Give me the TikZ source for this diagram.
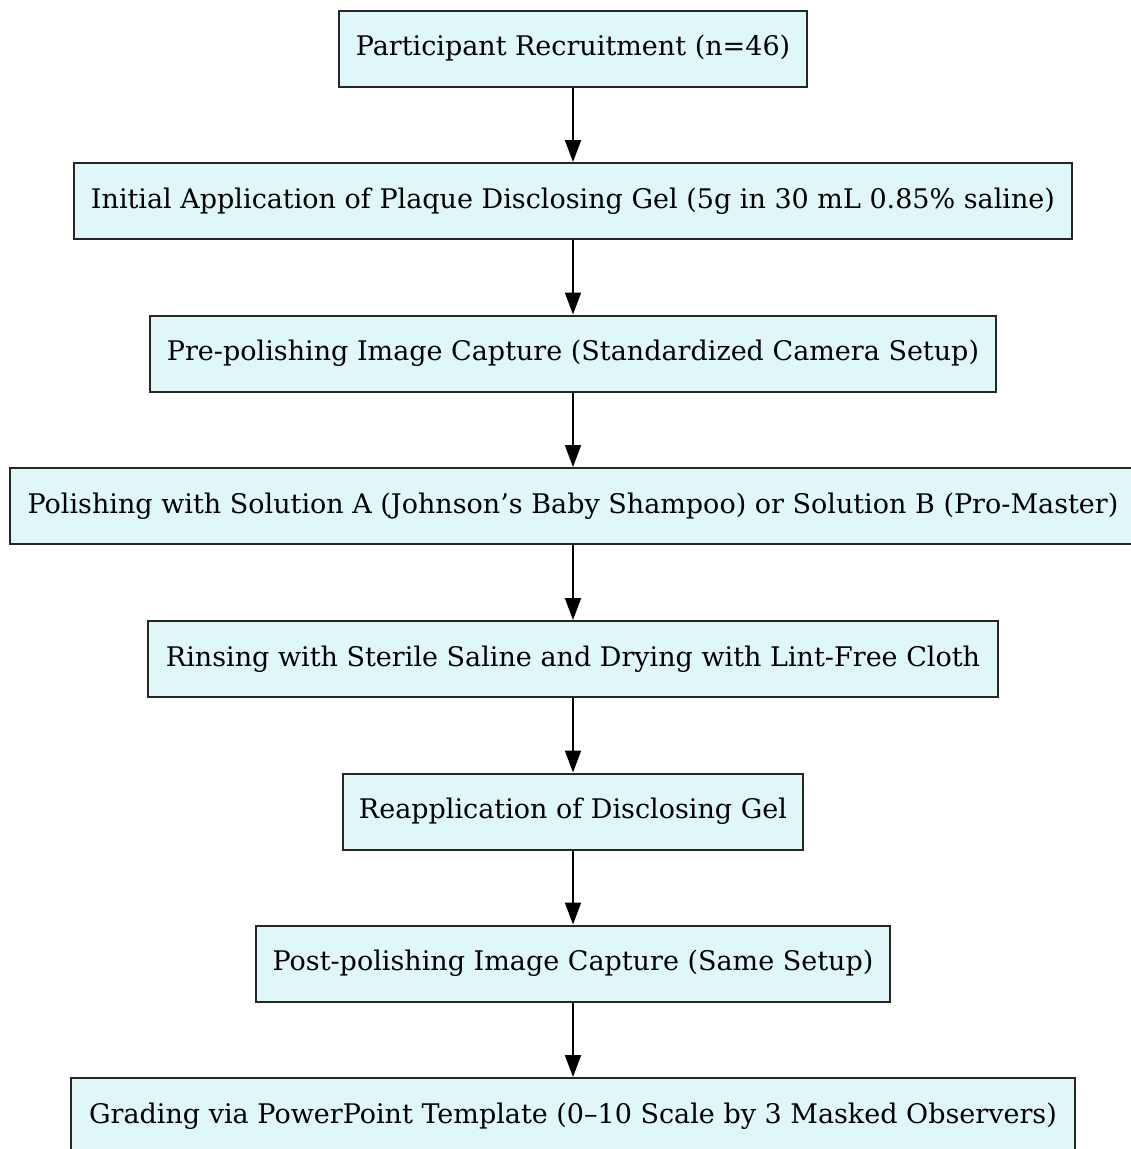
\documentclass[tikz,border=0pt]{standalone}
\usepackage{fontspec}
\setmainfont{DejaVu Serif}
\usetikzlibrary{arrows.meta}
\definecolor{boxfill}{HTML}{E0F7FA}
\begin{document}
\begin{tikzpicture}[x=1pt,y=-1pt,
  stepbox/.style={draw=black!85,line width=2pt,fill=boxfill,minimum height=76pt,inner sep=0pt,font=\fontsize{27}{32}\selectfont},
  flow/.style={line width=2pt,-{Triangle[length=22pt,width=16pt]}}]
\useasboundingbox (0,0) rectangle (1131,1149);
\node[stepbox,minimum width=468pt] (n1) at (573,48.5) {Participant Recruitment (n=46)};
\node[stepbox,minimum width=998pt] (n2) at (573,201) {Initial Application of Plaque Disclosing Gel (5g in 30 mL 0.85\% saline)};
\node[stepbox,minimum width=846pt] (n3) at (573,353.5) {Pre-polishing Image Capture (Standardized Camera Setup)};
\node[stepbox,minimum width=1126pt] (n4) at (573,506) {Polishing with Solution A (Johnson’s Baby Shampoo) or Solution B (Pro-Master)};
\node[stepbox,minimum width=850pt] (n5) at (573,659) {Rinsing with Sterile Saline and Drying with Lint-Free Cloth};
\node[stepbox,minimum width=460pt] (n6) at (573,811.5) {Reapplication of Disclosing Gel};
\node[stepbox,minimum width=634pt] (n7) at (573,963.5) {Post-polishing Image Capture (Same Setup)};
\node[stepbox,minimum width=1004pt] (n8) at (573,1116) {Grading via PowerPoint Template (0–10 Scale by 3 Masked Observers)};
\draw[flow] (n1) -- (n2);
\draw[flow] (n2) -- (n3);
\draw[flow] (n3) -- (n4);
\draw[flow] (n4) -- (n5);
\draw[flow] (n5) -- (n6);
\draw[flow] (n6) -- (n7);
\draw[flow] (n7) -- (n8);
\end{tikzpicture}
\end{document}
